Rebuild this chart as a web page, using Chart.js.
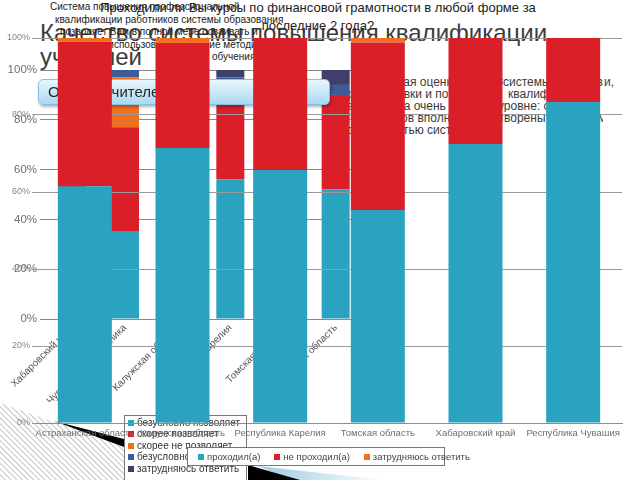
<!DOCTYPE html>
<html><head><meta charset="utf-8">
<script src="https://cdn.jsdelivr.net/npm/chart.js@4"></script>
<style>
html,body{margin:0;padding:0;background:#fff;}
#stage{position:relative;width:640px;height:480px;overflow:hidden;font-family:'Liberation Sans',Arial,sans-serif;color:#333;}
.abs{position:absolute;white-space:nowrap;}
.clip{overflow:hidden;}
canvas{position:absolute;left:0;top:0;}
.para{font-size:12px;line-height:12px;color:#3a3a3a;z-index:2;}
.mt{font-size:10px;line-height:12px;color:#222;z-index:2;}
#midLegend{left:124px;top:415px;width:123px;height:70px;border:1px solid #777;background:#fff;z-index:4;box-sizing:border-box;padding-top:1px;}
#midLegend .it{height:11.4px;line-height:11.4px;font-size:10px;color:#333;padding-left:3px;}
#mainLegend{left:187px;top:447px;width:258px;height:19px;border:1px solid #777;background:#fff;z-index:7;box-sizing:border-box;display:flex;align-items:center;padding-left:10px;gap:14px;}
#mainLegend .it{font-size:9.5px;color:#444;}
.sq{display:inline-block;width:6px;height:6px;margin-right:3px;vertical-align:0px;}
#blueBox{left:38px;top:79px;width:292px;height:26px;border-radius:5px;border:1px solid #86c3e2;background:linear-gradient(#e9f6fd,#aad9f1);box-shadow:1px 2px 3px rgba(0,0,0,0.3);z-index:5;box-sizing:border-box;font-size:15px;line-height:24px;padding-left:9px;color:#2a2a2a;}
</style></head><body>
<div id="stage">
<svg class="abs" width="640" height="480" style="left:0;top:0;z-index:1">
<defs>
<pattern id="hatch" width="4" height="4" patternUnits="userSpaceOnUse" patternTransform="rotate(-45)"><rect width="4" height="4" fill="#fff"/><line x1="0" y1="0" x2="0" y2="4" stroke="#b4b4b4" stroke-width="1.6"/></pattern>
<linearGradient id="bl" x1="0" y1="0" x2="1" y2="0"><stop offset="0" stop-color="#9ccbe0"/><stop offset="1" stop-color="#ffffff"/></linearGradient>
</defs>
<polygon points="0,403 57,423 124,443 124,480 0,480" fill="url(#hatch)"/>
<polygon points="54,421 124,439 124,447" fill="#000"/>
<polygon points="258,466 385,480 292,480" fill="url(#bl)"/>
<polygon points="248,465 300,480 248,480" fill="#000"/>
</svg>

<!-- slide title -->
<div class="abs" style="left:40px;top:21px;font-size:24px;line-height:24px;color:#3c3c3c;z-index:2;">Качество системы повышения квалификации<br>учителей</div>

<!-- background chart title -->
<div class="abs mt" style="left:50px;top:1px;">Система повышения профессиональной</div>
<div class="abs mt" style="left:55px;top:13.5px;">квалификации работников системы образования</div>
<div class="abs mt" style="left:60px;top:26px;">позволяет Вам в полной мере осваивать и</div>
<div class="abs mt" style="left:100px;top:38.5px;">и использовать новейшие методики</div>
<div class="abs mt" style="left:212px;top:51px;">обучения?</div>

<!-- main chart title -->
<div class="abs" style="left:0;width:636px;top:-1px;text-align:center;font-size:13px;line-height:18px;color:#222;z-index:2;">Проходили ли Вы курсы по финансовой грамотности в любой форме за<br>последние 2 года?</div>

<!-- paragraph fragments on the right -->
<div class="abs para" style="top:76px;right:243px;">Итого</div>
<div class="abs para clip" style="top:76px;left:397px;width:106px;">вая оценка учителями</div>
<div class="abs para clip" style="top:76px;left:503px;width:100px;">системы подготовки</div>
<div class="abs para" style="top:76px;left:604px;">и,</div>
<div class="abs para" style="top:88px;right:243px;">переподгот</div>
<div class="abs para clip" style="top:88px;left:397px;width:106px;">овки и повышения</div>
<div class="abs para clip" style="top:88px;left:508px;width:95px;">квалификации</div>
<div class="abs para" style="top:100px;right:243px;">находится</div>
<div class="abs para clip" style="top:100px;left:397px;width:106px;">на очень высоком</div>
<div class="abs para clip" style="top:100px;left:498px;width:105px;">уровне: свыше</div>
<div class="abs para" style="top:112px;right:243px;">педаго</div>
<div class="abs para clip" style="top:112px;left:397px;width:106px;">гов вполне удовлет</div>
<div class="abs para clip" style="top:112px;left:504px;width:99px;">ворены качеством</div>
<div class="abs para" style="top:124px;right:243px;">доступно</div>
<div class="abs para clip" style="top:124px;left:397px;width:106px;">стью системы</div>

<canvas id="mid" width="640" height="480" style="z-index:3"></canvas>
<div id="midLegend" class="abs"></div>
<div id="blueBox" class="abs">Оценка учителей школ</div>
<canvas id="main" width="640" height="480" style="z-index:6"></canvas>
<div id="mainLegend" class="abs"></div>
</div>

<script>
// ---- main (front) chart data ----
const mainCategories = ['Астраханская область','Калужская область','Республика Карелия','Томская область','Хабаровский край','Республика Чувашия'];
const mainSeriesNames = ['проходил(а)','не проходил(а)','затрудняюсь ответить'];
const passed    = [61.5, 71.4, 65.7, 55.3, 72.5, 83.4];
const notPassed = [37.5, 27.3, 34.3, 43.5, 27.5, 16.6];
const unsureMain = [1.0, 1.3, 0, 1.2, 0, 0];

// ---- background chart data ----
const midCategories = ['Хабаровский край','Чувашская Республика','Калужская область','Республика Карелия','Томская область','Астраханская область'];
const midSeriesNames = ['безусловно позволяет','скорее позволяет','скорее не позволяет','безусловно не позволяет','затрудняюсь ответить'];
const definitelyYes = [45, 35, 50, 56, 48, 52];
const ratherYes     = [40, 42, 38, 38, 40, 38];
const ratherNo      = [8, 20, 6, 0, 6, 0];
const definitelyNo  = [4, 3, 3, 3, 3, 4];
const unsureMid     = [3, 0, 3, 3, 3, 6];

// ---- tick labels ----
const percentTicks = [0, 20, 40, 60, 80, 100];

const TEAL='#2aa3c1', RED='#da1f29', ORANGE='#f07021', BLUE='#3c5b98', NAVY='#403f6c';
const mainColors=[TEAL,RED,ORANGE];
const midColors=[TEAL,RED,ORANGE,BLUE,NAVY];

Chart.defaults.font.family="'Liberation Sans', Arial, sans-serif";

const midSeries=[definitelyYes,ratherYes,ratherNo,definitelyNo,unsureMid];
new Chart(document.getElementById('mid'),{
  type:'bar',
  data:{labels:midCategories,datasets:midSeries.map((d,i)=>({label:midSeriesNames[i],data:d,backgroundColor:midColors[i]}))},
  options:{
    responsive:false,animation:false,
    layout:{padding:{left:0,top:70,right:278,bottom:71}},
    plugins:{legend:{display:false},tooltip:{enabled:false}},
    datasets:{bar:{barPercentage:1,categoryPercentage:0.532}},
    scales:{
      x:{stacked:true,grid:{display:false,drawTicks:false},border:{display:true,color:'#8a8a8a'},
         ticks:{autoSkip:false,maxRotation:45,minRotation:45,font:{size:10},color:'#555',padding:3},
         afterFit(s){s.height=90;}},
      y:{stacked:true,min:0,max:100,
         afterBuildTicks(s){s.ticks=percentTicks.map(v=>({value:v}));},
         ticks:{callback:v=>v+'%',font:{size:11.5},color:'#707070',padding:3},
         grid:{color:'#8a8a8a',tickLength:6},border:{display:false},
         afterFit(s){s.width=46;}}
    }
  }
});

const mainSeries=[passed,notPassed,unsureMain];
new Chart(document.getElementById('main'),{
  type:'bar',
  data:{labels:mainCategories,datasets:mainSeries.map((d,i)=>({label:mainSeriesNames[i],data:d,backgroundColor:mainColors[i]}))},
  options:{
    responsive:false,animation:false,
    layout:{padding:{left:0,top:38,right:18,bottom:35}},
    plugins:{legend:{display:false},tooltip:{enabled:false}},
    datasets:{bar:{barPercentage:1,categoryPercentage:0.553}},
    scales:{
      x:{stacked:true,grid:{display:false,drawTicks:false},border:{display:true,color:'#8c8c8c'},
         ticks:{autoSkip:false,maxRotation:0,minRotation:0,font:{size:9.5},color:'#6e6e6e',padding:5},
         afterFit(s){s.height=22;}},
      y:{stacked:true,min:0,max:100,
         afterBuildTicks(s){s.ticks=percentTicks.map(v=>({value:v}));},
         ticks:{callback:v=>v+'%',font:{size:9},color:'#858585',padding:2},
         grid:{color:'#9a9a9a',tickLength:4},border:{display:false},
         afterFit(s){s.width=36;}}
    }
  }
});

// legends built from series names and colours
document.getElementById('midLegend').innerHTML=midSeriesNames.map((n,i)=>
  '<div class="it"><span class="sq" style="background:'+midColors[i]+'"></span>'+n+'</div>').join('');
document.getElementById('mainLegend').innerHTML=mainSeriesNames.map((n,i)=>
  '<span class="it"><span class="sq" style="background:'+mainColors[i]+'"></span>'+n+'</span>').join('');
</script>
</body></html>
